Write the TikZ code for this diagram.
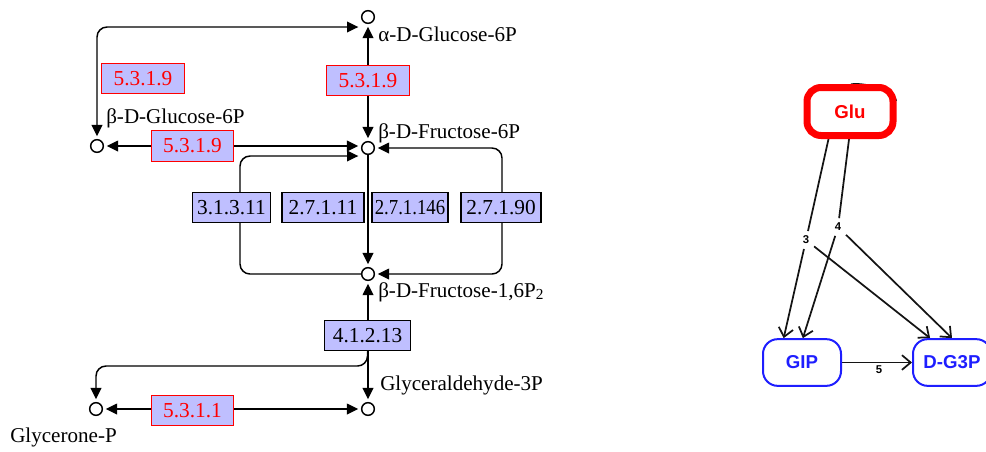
\documentclass[tikz,border=0pt]{standalone}
\usepackage{fontspec}
\setmainfont{Liberation Serif}
\newfontfamily\arialfont{Liberation Sans}
\usetikzlibrary{arrows.meta}
\pgfdeclarelayer{bg}
\pgfsetlayers{bg,main}
\definecolor{ecfill}{RGB}{191,191,255}
\definecolor{ecred}{RGB}{255,0,0}
\definecolor{nodeblue}{RGB}{30,30,255}
\definecolor{edgegray}{RGB}{20,20,20}

\begin{document}
\begin{tikzpicture}[
    x=0.75pt, y=-0.75pt,
    compound/.style = {circle, draw, fill=white, line width=1.1pt, minimum size=9.5pt, inner sep=0pt},
    cpdname/.style = {font=\fontsize{15.8}{18}\selectfont, inner sep=0pt},
    enzyme/.style = {rectangle, draw, fill=ecfill, line width=0.8pt, minimum height=23pt, minimum width=62pt, inner sep=1pt, font=\fontsize{16}{18}\selectfont},
    isomerase/.style = {enzyme, draw=ecred, text=ecred},
    reaction/.style = {line width=1.1pt, shorten >=2pt},
    modnode/.style = {rectangle, rounded corners=11pt, draw=nodeblue, text=nodeblue, line width=1.5pt, minimum width=58.5pt, minimum height=35pt, font=\arialfont\bfseries\fontsize{14}{16}\selectfont},
    edgelbl/.style = {font=\arialfont\bfseries\fontsize{8.5}{10}\selectfont, inner sep=3.5pt},
    flux/.style = {line width=1.3pt, draw=edgegray},
    fluxarrow/.style = {flux, -{Straight Barb[length=6.5pt, width=11pt]}},
    >={Triangle[length=8.5pt, width=8pt]}]

    \useasboundingbox (0,0) rectangle (986,451);

    % compounds
    \node[compound] (glcA) at (368,17) {};
    \node[compound] (glcB) at (97,146) {};
    \node[compound] (f6p) at (368,148) {};
    \node[compound] (fbp) at (368,274) {};
    \node[compound] (gap) at (368,409) {};
    \node[compound] (dhap) at (96,409) {};

    \node[cpdname, anchor=base west] (nglcA) at (378,41) {α-D-Glucose-6P};
    \node[cpdname, anchor=base west] (nglcB) at (106,123) {β-D-Glucose-6P};
    \node[cpdname, anchor=base west] (nf6p) at (378,138) {β-D-Fructose-6P};
    \node[cpdname, anchor=base west] (nfbp) at (378,297) {β-D-Fructose-1,6P\raisebox{-0.3ex}{\fontsize{11.5}{12}\selectfont 2}};
    \node[cpdname, anchor=base west] (ngap) at (380,390) {Glyceraldehyde-3P};
    \node[cpdname, anchor=base west] (ndhap) at (10,442) {Glycerone-P};

    % enzymes
    \node[isomerase] (pgi1) at (143,78.5) {5.3.1.9};
    \node[isomerase] (pgi2) at (368,80.5) {5.3.1.9};
    \node[isomerase] (pgi3) at (192.5,146) {5.3.1.9};
    \node[enzyme, minimum width=59pt] (fbpase) at (231.5,207.5) {3.1.3.11};
    \node[enzyme, minimum width=61.5pt] (pfk) at (323,207.5) {2.7.1.11};
    \node[enzyme, minimum width=57pt, inner sep=0pt] (pfk146) at (410,207.5) {\scalebox{0.88}[1]{2.7.1.146}};
    \node[enzyme, minimum width=60pt] (pfp) at (501,207.5) {2.7.1.90};
    \node[enzyme, minimum width=64pt] (ald) at (367.5,335.5) {4.1.2.13};
    \node[isomerase, minimum width=61pt] (tpi) at (192.5,410.5) {5.3.1.1};

    \coordinate (t1) at (361,27);
    \coordinate (t2) at (361,156);
    \coordinate (c1) at (240,200);
    \coordinate (c2) at (502,210);
    \coordinate (c3) at (200,366);

    % model graph
    \node[modnode, draw=ecred, text=ecred, line width=5.25pt, minimum width=64.5pt, minimum height=36pt, rounded corners=10.5pt] (glu) at (850,111.5) {Glu};
    \node[modnode] (gip) at (802,362.5) {GIP};
    \node[modnode] (dg3p) at (952,362.5) {D-G3P};
    \node[edgelbl] (l3) at (806,240) {3};
    \node[edgelbl] (l4) at (838,227) {4};
    \node[edgelbl] (l5) at (879,370) {5};

    \begin{pgfonlayer}{bg}
    \draw[reaction, <->, shorten <=2pt, rounded corners=7.5pt] (glcB) |- (t1);
    \draw[reaction, <->, shorten <=2pt] (glcA) -- (f6p);
    \draw[reaction, <->, shorten <=2pt] (glcB) -- (glcB -| f6p.west);
    \draw[reaction, ->, rounded corners=7.5pt] (fbp) -| (c1) |- (t2);
    \draw[reaction, <->, shorten <=2pt, rounded corners=7.5pt] (f6p) -| (c2) |- (fbp);
    \draw[reaction, ->] (f6p) -- (fbp);
    \draw[reaction, <->, shorten <=2pt] (fbp) -- (gap);
    \draw[reaction, ->, rounded corners=7.5pt] (ald.south) |- (c3) -| (dhap);
    \draw[reaction, <->, shorten <=2pt] (dhap) -- (gap);

    \draw[flux, line width=0.8pt] (glu.88) .. controls +(12,-2) and +(-3,-12) .. (glu.13);
    \draw[flux] (glu.232) -- (l3);
    \draw[flux] (glu.268) -- (l4);
    \draw[fluxarrow] (l3) -- (gip.127);
    \draw[fluxarrow] (l4) -- (gip.88);
    \draw[fluxarrow] (l3) -- (dg3p.132);
    \draw[fluxarrow] (l4) -- (dg3p.90);
    \draw[fluxarrow] (gip) -- (dg3p);
    \end{pgfonlayer}
\end{tikzpicture}
\end{document}
